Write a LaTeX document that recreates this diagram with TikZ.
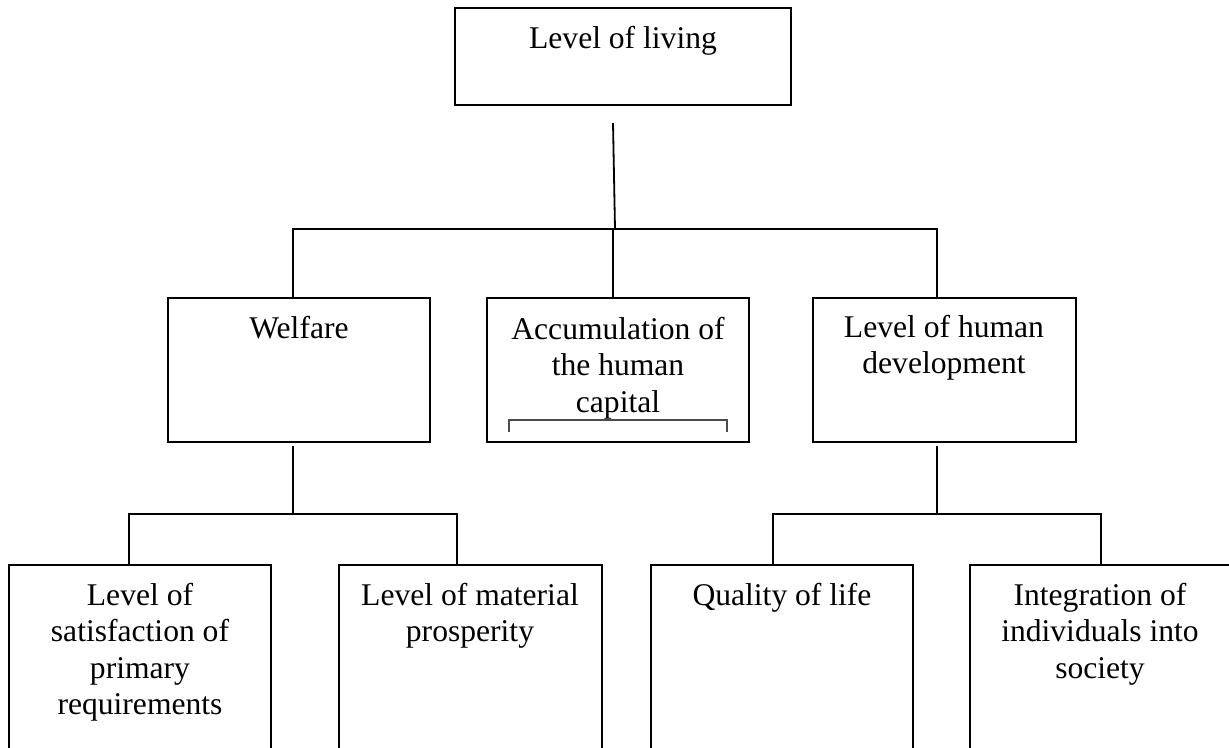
\documentclass[tikz,border=0pt]{standalone}
\usepackage{fontspec}
\setmainfont{Liberation Serif}
\usetikzlibrary{fit,calc}
\newcommand{\boxtext}[1]{\parbox[t]{160pt}{\centering #1}}
\begin{document}
\begin{tikzpicture}[x=0.5pt,y=-0.5pt,
  box/.style={draw, line width=0.9pt, inner sep=0pt, fit={#1}},
  lbl/.style={anchor=base, inner sep=0pt, font=\fontsize{15.8}{18.25}\selectfont},
  conn/.style={line width=0.9pt}]
\useasboundingbox (0,0) rectangle (1229,748);
\clip (0,0) rectangle (1229,748);
\fill[white] (0,0) rectangle (1229,748);

% boxes
\node[box={(455,8) (791,105)}] (top) {};
\node[box={(168,298) (430,442)}] (wel) {};
\node[box={(487,298) (749,442)}] (acc) {};
\node[box={(813,298) (1076,442)}] (hdev) {};
\node[box={(9,565) (271,770)}] (sat) {};
\node[box={(339,565) (602,770)}] (mat) {};
\node[box={(651,565) (913,770)}] (qual) {};
\node[box={(970,565) (1232,770)}] (integ) {};

% texts
\node[lbl] (ttop) at (623,49) {\boxtext{Level of living}};
\node[lbl] (twel) at (299,338) {\boxtext{Welfare}};
\node[lbl] (tacc) at (618,339) {\boxtext{Accumulation of\\the human\\capital}};
\node[lbl] (thdev) at (944,337) {\boxtext{Level of human\\development}};
\node[lbl] (tsat) at (140,605) {\boxtext{Level of\\satisfaction of\\primary\\requirements}};
\node[lbl] (tmat) at (470,605) {\boxtext{Level of material\\prosperity}};
\node[lbl] (tqual) at (782,605) {\boxtext{Quality of life}};
\node[lbl] (tinteg) at (1100,605) {\boxtext{Integration of\\individuals into\\society}};

% small open frame inside the middle box
\draw[gray!60!black, line width=0.6pt] (509,432) -- (509,420) -- (727,420) -- (727,432);

% connectors, upper level
\coordinate (s0) at (613,123);
\coordinate (bus) at (615,229);
\draw[conn] (s0) -- (bus);
\draw[conn] ($(wel.north)+(-6,0)$) |- (bus) -| ($(hdev.north)+(-7.5,0)$);
\draw[conn] ($(acc.north)+(-5,0)$) -- ($(acc.north)+(-5,-69)$);

% connectors, lower level
\coordinate (wb) at (293,514);
\coordinate (hb) at (937,514);
\draw[conn] ($(wel.south)+(-6,3)$) -- (wb);
\draw[conn] ($(sat.north)+(-11,0)$) |- (wb) -| ($(mat.north)+(-13.5,0)$);
\draw[conn] ($(hdev.south)+(-7.5,3)$) -- (hb);
\draw[conn] ($(qual.north)+(-9,0)$) |- (hb) -| ($(integ.north)+(0,0)$);
\end{tikzpicture}
\end{document}
